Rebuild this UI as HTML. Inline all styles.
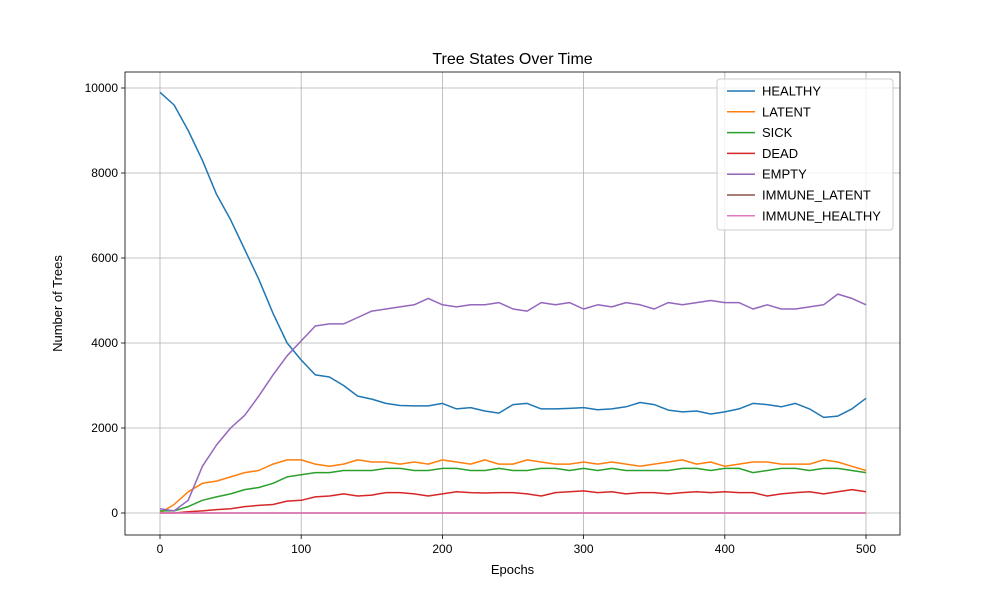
<!DOCTYPE html>
<html><head><meta charset="utf-8">
<style>body{margin:0;background:#fff}svg{font-family:"Liberation Sans","DejaVu Sans",sans-serif}</style>
</head><body>
<svg id="c" width="1000" height="600" xmlns="http://www.w3.org/2000/svg">
<rect width="1000" height="600" fill="#fff"/>
</svg>
<script>
const epochs = [0,10,20,30,40,50,60,70,80,90,100,110,120,130,140,150,160,170,180,190,200,210,220,230,240,250,260,270,280,290,300,310,320,330,340,350,360,370,380,390,400,410,420,430,440,450,460,470,480,490,500];
const healthy = [9900,9600,9000,8300,7500,6900,6200,5500,4700,4000,3600,3250,3200,3000,2750,2680,2580,2530,2520,2520,2580,2450,2480,2400,2350,2550,2580,2450,2450,2460,2480,2430,2450,2500,2600,2550,2420,2380,2400,2330,2380,2450,2580,2550,2500,2580,2450,2250,2280,2450,2700];
const latent = [0,200,500,700,750,850,950,1000,1150,1250,1250,1150,1100,1150,1250,1200,1200,1150,1200,1150,1250,1200,1150,1250,1150,1150,1250,1200,1150,1150,1200,1150,1200,1150,1100,1150,1200,1250,1150,1200,1100,1150,1200,1200,1150,1150,1150,1250,1200,1100,1000];
const sick = [50,50,150,300,380,450,550,600,700,850,900,950,950,1000,1000,1000,1050,1050,1000,1000,1050,1050,1000,1000,1050,1000,1000,1050,1050,1000,1050,1000,1050,1000,1000,1000,1000,1050,1050,1000,1050,1050,950,1000,1050,1050,1000,1050,1050,1000,950];
const dead = [0,0,30,50,80,100,150,180,200,280,300,380,400,450,400,420,480,480,450,400,450,500,480,470,480,480,450,400,480,500,520,480,500,450,480,480,450,480,500,480,500,480,480,400,450,480,500,450,500,550,500];
const empty = [100,50,300,1100,1600,2000,2300,2750,3250,3700,4050,4400,4450,4450,4600,4750,4800,4850,4900,5050,4900,4850,4900,4900,4950,4800,4750,4950,4900,4950,4800,4900,4850,4950,4900,4800,4950,4900,4950,5000,4950,4950,4800,4900,4800,4800,4850,4900,5150,5050,4900];
const immuneLatent = epochs.map(()=>0);
const immuneHealthy = epochs.map(()=>0);
const xTicks = [0,100,200,300,400,500];
const yTicks = [0,2000,4000,6000,8000,10000];
const seriesNames = ["HEALTHY","LATENT","SICK","DEAD","EMPTY","IMMUNE_LATENT","IMMUNE_HEALTHY"];

const L=125,R=900,T=72,B=535;
const xs=v=>160+(v/500)*706;
const ys=v=>513-(v/10000)*425;
const svg=document.getElementById('c');
const NS="http://www.w3.org/2000/svg";
function mk(t,a,p){const e=document.createElementNS(NS,t);for(const k in a)e.setAttribute(k,a[k]);(p||svg).appendChild(e);return e;}

xTicks.forEach(v=>{
 const g=mk('line',{x1:xs(v),x2:xs(v),y1:T,y2:B,stroke:'#b0b0b0','stroke-width':0.8});
 
 
 mk('line',{x1:xs(v),x2:xs(v),y1:B,y2:B+4,stroke:'#000','stroke-width':0.8});
 const t=mk('text',{x:xs(v),y:B+18,'font-size':12,'text-anchor':'middle'});t.textContent=v;
 
 
});
yTicks.forEach(v=>{
 const g=mk('line',{x1:L,x2:R,y1:ys(v),y2:ys(v),stroke:'#b0b0b0','stroke-width':0.8});
 
 
 mk('line',{x1:L-4,x2:L,y1:ys(v),y2:ys(v),stroke:'#000','stroke-width':0.8});
 const t=mk('text',{x:L-7,y:ys(v)+4,'font-size':12,'text-anchor':'end'});t.textContent=v;
 
 
});
const colors=['#1f77b4','#ff7f0e','#2ca02c','#d62728','#9467bd','#8c564b','#e377c2'];
const data=[healthy,latent,sick,dead,empty,immuneLatent,immuneHealthy];
data.forEach((d,i)=>{
 const p=mk('path',{d:d.map((v,j)=>(j?'L':'M')+xs(epochs[j]).toFixed(1)+','+ys(v).toFixed(1)).join(''),fill:'none',stroke:colors[i],'stroke-width':1.5,'stroke-linejoin':'round'});
 
 
});
const fr=mk('rect',{x:L,y:T,width:R-L,height:B-T,fill:'none',stroke:'#000','stroke-width':0.8});


const title=mk('text',{x:(L+R)/2,y:64,'font-size':16,'text-anchor':'middle'});title.textContent='Tree States Over Time';


const xl=mk('text',{x:(L+R)/2,y:574,'font-size':13,'text-anchor':'middle'});xl.textContent='Epochs';


const yl=mk('text',{x:62,y:(T+B)/2,'font-size':13,'text-anchor':'middle',transform:'rotate(-90 62 '+((T+B)/2)+')'});yl.textContent='Number of Trees';


const lg=mk('g',{});


mk('rect',{x:717,y:79,width:176,height:151,rx:3,fill:'#fff','fill-opacity':0.8,stroke:'#ccc'},lg);
seriesNames.forEach((n,i)=>{
 const y=91+i*20.8;
 const e=mk('g',{},lg);
 
 
 mk('line',{x1:727,x2:755,y1:y,y2:y,stroke:colors[i],'stroke-width':1.5},e);
 const t=mk('text',{x:762,y:y+4.5,'font-size':13},e);t.textContent=n;
});
</script>
</body></html>
